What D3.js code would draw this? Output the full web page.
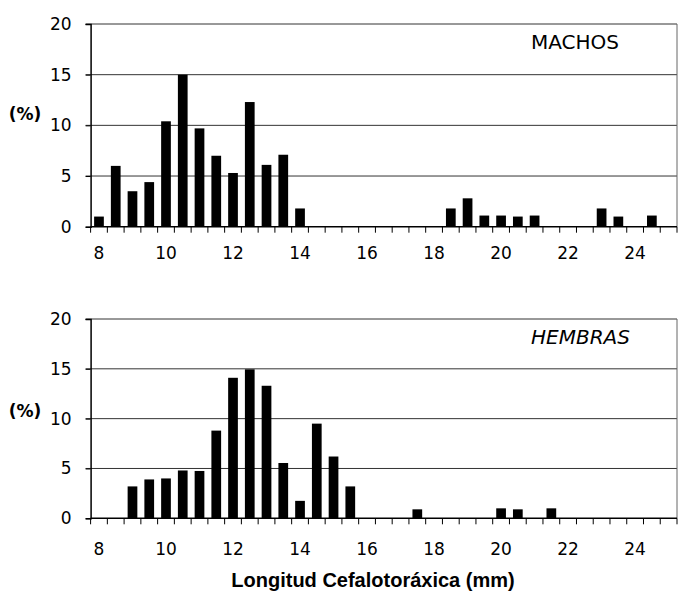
<!DOCTYPE html>
<html>
<head>
<meta charset="utf-8">
<script src="https://cdn.jsdelivr.net/npm/d3@7"></script>
<style>
  body { margin: 0; background: #fff; }
  svg { display: block; }
</style>
</head>
<body>
<svg id="chart" width="678" height="598"></svg>
<script>
// data
const categories = [8, 8.5, 9, 9.5, 10, 10.5, 11, 11.5, 12, 12.5, 13, 13.5, 14, 14.5, 15, 15.5, 16, 16.5,
  17, 17.5, 18, 18.5, 19, 19.5, 20, 20.5, 21, 21.5, 22, 22.5, 23, 23.5, 24, 24.5, 25];
const machos = [1.0, 6.0, 3.5, 4.4, 10.4, 15.0, 9.7, 7.0, 5.3, 12.3, 6.1, 7.1, 1.8, 0, 0, 0, 0, 0,
  0, 0, 0, 1.8, 2.8, 1.1, 1.1, 1.0, 1.1, 0, 0, 0, 1.8, 1.0, 0, 1.1, 0];
const hembras = [0, 0, 3.2, 3.9, 4.0, 4.8, 4.75, 8.8, 14.1, 14.95, 13.3, 5.55, 1.75, 9.5, 6.2, 3.2, 0, 0,
  0, 0.9, 0, 0, 0, 0, 1.0, 0.9, 0, 1.0, 0, 0, 0, 0, 0, 0, 0];
const xTickLabels = [8, 10, 12, 14, 16, 18, 20, 22, 24];
const yTicks = [0, 5, 10, 15, 20];

const svg = d3.select("#chart");
const left = 90.6, right = 677;

const x = d3.scaleBand()
  .domain(categories)
  .range([left, right])
  .paddingInner(0.42)
  .paddingOuter(0.21);

function drawPanel(values, top, bottom, label, italic, labelBase, pctBase) {
  const y = d3.scaleLinear().domain([0, 20]).range([bottom, top]);
  const g = svg.append("g");

  // gridlines
  g.selectAll("line.grid")
    .data(yTicks.filter(d => d > 0))
    .enter()
    .append("line")
    .attr("x1", left - 5)
    .attr("x2", right)
    .attr("y1", d => y(d))
    .attr("y2", d => y(d))
    .attr("stroke", "#333")
    .attr("stroke-width", 1);

  // right border
  g.append("line")
    .attr("x1", right).attr("x2", right)
    .attr("y1", top).attr("y2", bottom)
    .attr("stroke", "#666");

  // bars
  g.selectAll("rect")
    .data(values.map((v, i) => ({ c: categories[i], v })).filter(d => d.v > 0))
    .enter()
    .append("rect")
    .attr("x", d => x(d.c))
    .attr("y", d => y(d.v))
    .attr("width", x.bandwidth())
    .attr("height", d => y(0) - y(d.v))
    .attr("fill", "#000");

  // y axis
  const yAxis = d3.axisLeft(y).tickValues(yTicks).tickSize(5).tickPadding(14);
  const ya = g.append("g").attr("transform", `translate(${left},0)`).call(yAxis);
  ya.select(".domain").attr("stroke", "#000").attr("stroke-width", 1.5);
  ya.selectAll("text")
    .attr("font-family", "DejaVu Sans")
    .attr("font-size", 17)
    .attr("fill", "#000");

  // x axis: ticks at category boundaries
  const step = x.step();
  const bounds = d3.range(categories.length + 1).map(i => left + i * step);
  g.append("line")
    .attr("x1", left).attr("x2", right)
    .attr("y1", y(0)).attr("y2", y(0))
    .attr("stroke", "#000").attr("stroke-width", 1.5);
  g.selectAll("line.xtick")
    .data(bounds)
    .enter()
    .append("line")
    .attr("x1", d => d).attr("x2", d => d)
    .attr("y1", y(0)).attr("y2", y(0) + 6)
    .attr("stroke", "#000");
  g.selectAll("text.xlab")
    .data(xTickLabels)
    .enter()
    .append("text")
    .attr("x", d => x(d) + x.bandwidth() / 2)
    .attr("y", labelBase)
    .attr("text-anchor", "middle")
    .attr("font-family", "DejaVu Sans")
    .attr("font-size", 17)
    .text(d => d);

  // (%) label
  g.append("text")
    .attr("x", 25)
    .attr("y", pctBase)
    .attr("text-anchor", "middle")
    .attr("font-family", "DejaVu Sans")
    .attr("font-weight", "bold")
    .attr("font-size", 17)
    .text("(%)");

  // panel label
  g.append("text")
    .attr("x", 531)
    .attr("y", top + 25)
    .attr("font-family", "DejaVu Sans")
    .attr("font-style", italic ? "italic" : "normal")
    .attr("font-size", 20)
    .text(label);
}

drawPanel(machos, 24, 226.7, "MACHOS", false, 259, 120);
drawPanel(hembras, 319, 518.3, "HEMBRAS", true, 555, 417);

svg.append("text")
  .attr("x", 373)
  .attr("y", 587)
  .attr("text-anchor", "middle")
  .attr("font-family", "Liberation Sans")
  .attr("font-weight", "bold")
  .attr("font-size", 20)
  .text("Longitud Cefalotoráxica (mm)");
</script>
</body>
</html>
